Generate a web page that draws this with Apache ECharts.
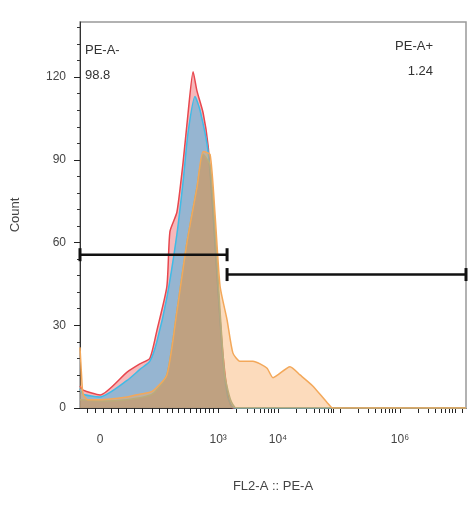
<!DOCTYPE html>
<html><head><meta charset="utf-8">
<script src="https://cdn.jsdelivr.net/npm/echarts@6/dist/echarts.min.js"></script>
<style>html,body{margin:0;padding:0;background:#fff}#c{width:475px;height:505px}</style>
</head><body><div id="c"></div>
<script>
// x values are display channels (0..1000) of the biexponential FL2-A axis
const redX   = [0,8,52,122,155,181,199,225,233,251,267,280,293,303,319,332,344,357,370,383,396,1000];
const redY   = [8,6.5,4.7,13,16,18,28,44,64,71,89,107,122,115,107,95,73,44,20,5,0,0];
const blueX  = [0,8,52,122,155,181,199,225,251,267,280,298,311,332,344,357,370,383,400,1000];
const blueY  = [7,5,4,10,14,17,24,40,63,82,100,113,108,93,72,44,18,4,0,0];
const greenX = [0,52,122,187,225,251,277,303,319,337,350,363,375,390,405,1000];
const greenY = [3,2.5,3,5,12,35,60,80,92,88,65,35,12,3,0,0];
const orangeX= [0,4,8,20,52,122,155,187,225,251,277,303,319,337,350,363,381,396,414,448,484,500,544,570,603,640,655,1000];
const orangeY= [22,12,5,3,3,4,5,6,12,35,60,80,93,92,70,44,32,20,17,17,14.5,11,15,12,8,2,0,0];
const gateNeg = [[0,55.6],[381,55.6]];
const gatePos = [[381,48.4],[1000,48.4]];
const majorTicks = [187,358,513,674,829,990];
const minorTicks = [20,40,60,80,100,120,140,160,205,225,240,255,270,285,300,312,325,335,345,405,432,451,466,477,487,495,502,560,587,606,621,632,642,650,657,720,747,766,781,792,802,810,817,875,902,921,936,947,957,965,972];
const xLabelVals = [52,358,513,829];
const xLabelTxt = ['0','10³','10⁴','10⁶'];
const yTicks = [0,30,60,90,120];

const zip=(a,b)=>a.map((v,i)=>[v,b[i]]);
const area=(name,x,y,line,fill,z)=>({name,type:'line',data:zip(x,y),symbol:'none',smooth:0.2,z,
  lineStyle:{color:line,width:1.5},areaStyle:{color:fill,origin:'start'}});
const gate=(d)=>({type:'line',data:d,symbol:'rect',symbolSize:[3,13],z:10,
  itemStyle:{color:'#111'},lineStyle:{color:'#111',width:2.5},animation:false});

const chart=echarts.init(document.getElementById('c'));
chart.setOption({
  animation:false,
  grid:{left:80,right:9,top:22,bottom:97,show:true,borderColor:'#999',borderWidth:1.5,backgroundColor:'#fff'},
  xAxis:{type:'value',min:0,max:1000,
    name:'FL2-A :: PE-A',nameLocation:'middle',nameGap:72,nameTextStyle:{color:'#444',fontSize:13,fontFamily:'Liberation Sans'},
    axisLine:{lineStyle:{color:'#333'}},
    axisTick:{customValues:majorTicks.concat(minorTicks),length:5,lineStyle:{color:'#222'}},
    axisLabel:{customValues:xLabelVals,formatter:v=>xLabelTxt[xLabelVals.indexOf(v)],margin:26,color:'#444',fontSize:12,fontFamily:'Liberation Sans'},
    splitLine:{show:false}},
  yAxis:{type:'value',min:0,max:140,
    name:'Count',nameLocation:'middle',nameGap:58,nameTextStyle:{color:'#444',fontSize:13,fontFamily:'Liberation Sans'},
    axisLine:{show:true,lineStyle:{color:'#333'}},
    axisTick:{customValues:yTicks,length:6,lineStyle:{color:'#222'}},
    minorTick:{show:true,splitNumber:5,length:3,lineStyle:{color:'#333'}},
    axisLabel:{customValues:yTicks,color:'#444',fontSize:12,margin:14,fontFamily:'Liberation Sans'},
    splitLine:{show:false}},
  series:[
    area('red',redX,redY,'#e8474e','rgba(232,71,78,0.55)',2),
    area('blue',blueX,blueY,'#3fbbe6','rgba(85,180,225,0.85)',3),
    area('green',greenX,greenY,'#8fae8c','rgba(150,135,110,0.8)',4),
    area('orange',orangeX,orangeY,'#f3a85a','rgba(247,170,95,0.6)',5),
    gate(gateNeg),gate(gatePos)
  ],
  graphic:[
    {type:'text',left:85,top:38,style:{text:'PE-A-\n98.8',fill:'#333',font:'13px Liberation Sans',lineHeight:25}},
    {type:'text',x:433,y:40,style:{text:'PE-A+',fill:'#333',font:'13px Liberation Sans',align:'right'}},
    {type:'text',x:433,y:65,style:{text:'1.24',fill:'#333',font:'13px Liberation Sans',align:'right'}}
  ]
});
</script></body></html>
